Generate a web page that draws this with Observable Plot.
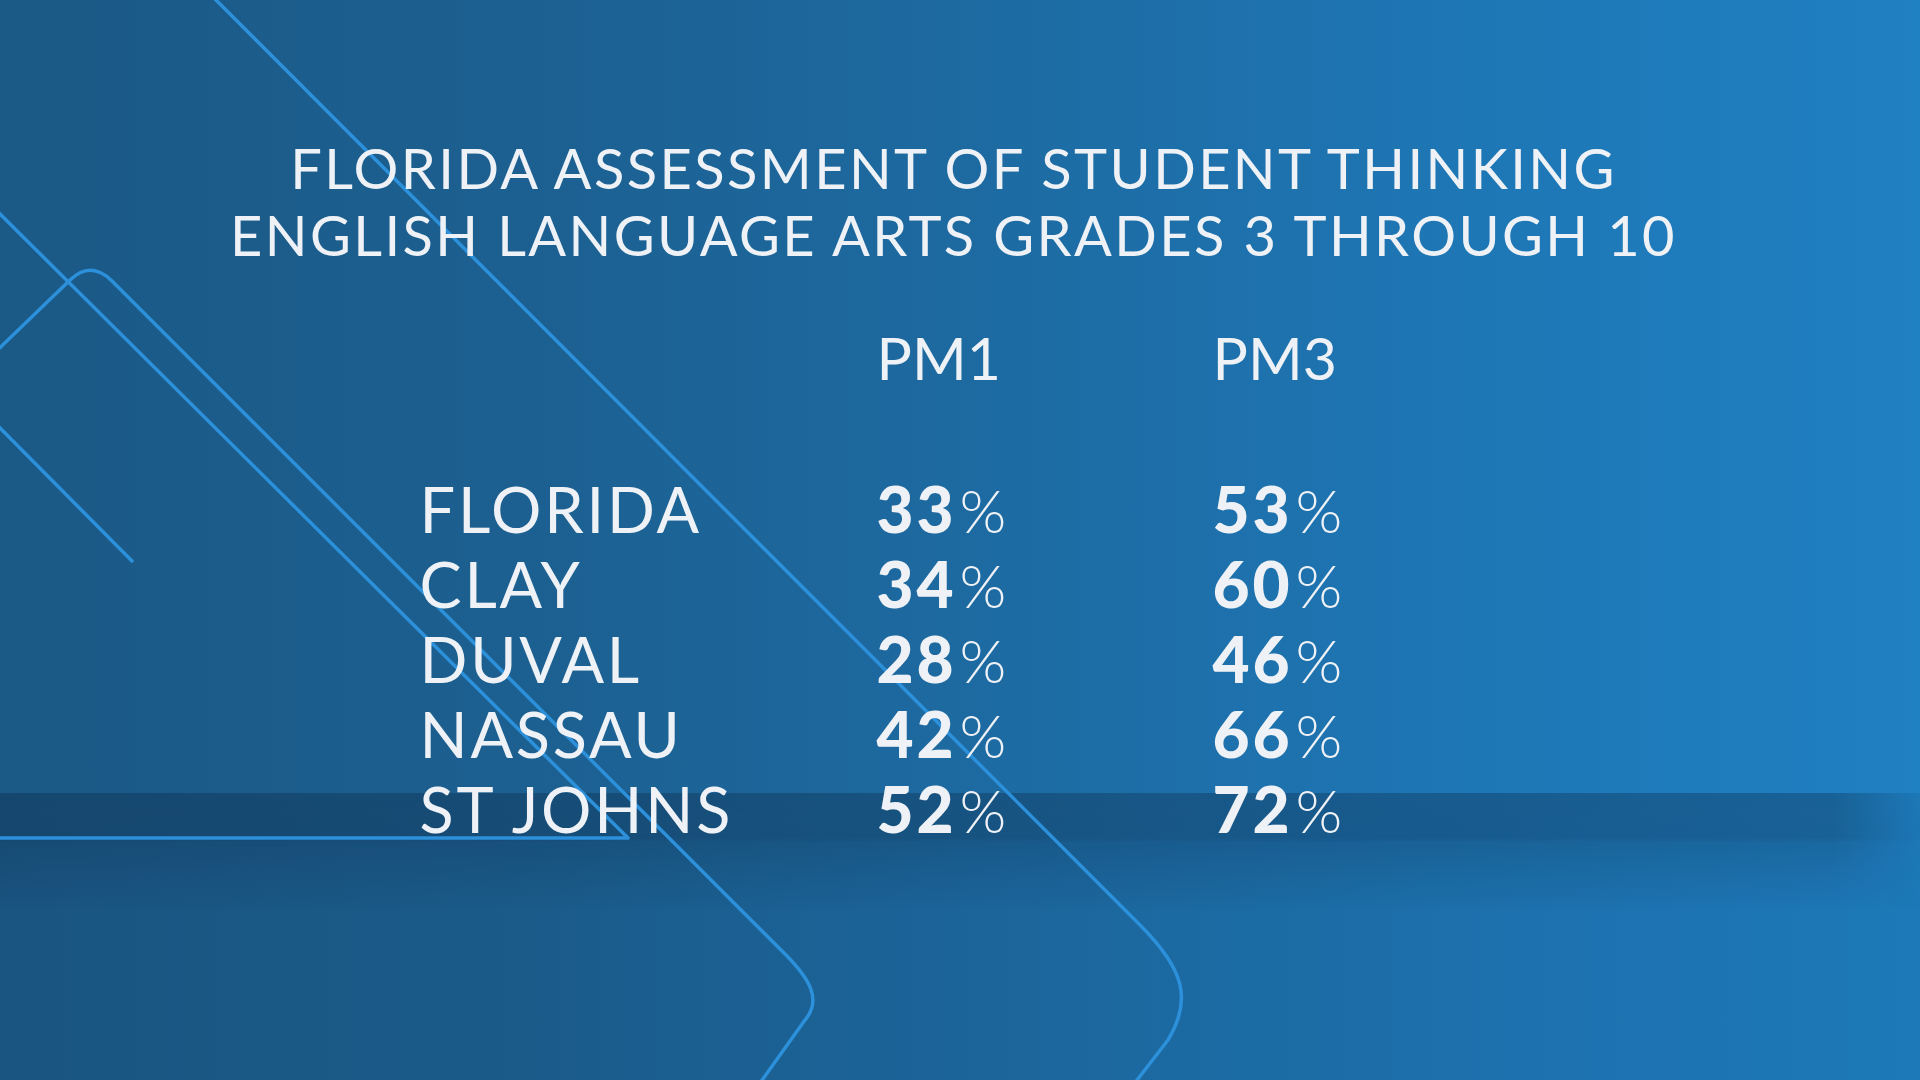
<!DOCTYPE html>
<html>
<head>
<meta charset="utf-8">
<script src="https://cdn.jsdelivr.net/npm/d3@7"></script>
<script src="https://cdn.jsdelivr.net/npm/@observablehq/plot@0.6"></script>
<style>
  html, body { margin: 0; padding: 0; background: #1b5a88; }
  #stage {
    position: relative; width: 1920px; height: 1080px; overflow: hidden;
    background:
      linear-gradient(to bottom, rgba(8,28,55,0) 0px, rgba(8,28,55,0) 790px, rgba(8,28,55,0.07) 900px, rgba(8,28,55,0.07) 1080px),
      linear-gradient(90deg, #1b5986 0%, #1c6091 28%, #1d6aa1 50%, #1e76b4 75%, #1f80c2 100%);
  }
  #deco { position: absolute; left: 0; top: 0; }
  #chart { position: absolute; left: 0; top: 0; }
  #chart g[aria-description="title"] text { letter-spacing: 2.4px; }
  #chart g[aria-description="labels"] text { letter-spacing: 2.8px; }
  #chart g[aria-description="values"] text { letter-spacing: 3px; }
</style>
</head>
<body>
<div id="stage">
  <svg id="deco" width="1920" height="1080" viewBox="0 0 1920 1080">
    <defs>
      <linearGradient id="bandV" x1="0" y1="0" x2="0" y2="1" gradientUnits="objectBoundingBox">
        <stop offset="0" stop-color="#0a1f38" stop-opacity="0.30"/>
        <stop offset="0.38" stop-color="#0a1f38" stop-opacity="0.28"/>
        <stop offset="0.42" stop-color="#0a1f38" stop-opacity="0.20"/>
        <stop offset="1" stop-color="#0a1f38" stop-opacity="0"/>
      </linearGradient>
      <linearGradient id="bandH" x1="0" y1="0" x2="1" y2="0">
        <stop offset="0" stop-color="#fff" stop-opacity="1"/>
        <stop offset="0.955" stop-color="#fff" stop-opacity="1"/>
        <stop offset="1" stop-color="#fff" stop-opacity="0.25"/>
      </linearGradient>
      <mask id="bandMask"><rect x="0" y="780" width="1920" height="150" fill="url(#bandH)"/></mask>
    </defs>
    <rect x="0" y="793" width="1920" height="118" fill="url(#bandV)" mask="url(#bandMask)"/>
    <g fill="none" stroke="#2c90da" stroke-width="3.5" stroke-linejoin="round" stroke-linecap="round">
      <path d="M214,-2 L1140,925 C1185,970 1192,1000 1168,1040 L1134,1084"/>
      <path d="M-20,367 L70,280 Q91,260 112,281 L785,954 C810,979 822,1000 805,1020 L755,1090"/>
      <path d="M-2,212 L628,838 L-2,838"/>
      <path d="M-2,426 L132,561"/>
    </g>
  </svg>
  <div id="chart"></div>
</div>
<script>
// ---- data ----
const titleLines = ["FLORIDA ASSESSMENT OF STUDENT THINKING", "ENGLISH LANGUAGE ARTS GRADES 3 THROUGH 10"];
const periods = ["PM1", "PM3"];
const regions = ["FLORIDA", "CLAY", "DUVAL", "NASSAU", "ST JOHNS"];
const pm1 = [33, 34, 28, 42, 52];
const pm3 = [53, 60, 46, 66, 72];

const table = regions.flatMap((r, i) => [
  {region: r, period: "PM1", value: pm1[i]},
  {region: r, period: "PM3", value: pm3[i]}
]);

const ink = "#eef1f5";
const font = "Lato, 'Open Sans', sans-serif";

const chart = Plot.plot({
  width: 1920,
  height: 1080,
  margin: 0,
  style: {background: "transparent", fontFamily: font, color: ink, overflow: "visible"},
  x: {type: "point", domain: periods, range: [876, 1212], padding: 0, axis: null},
  y: {type: "point", domain: regions, range: [532, 832], padding: 0, axis: null},
  marks: [
    Plot.text([titleLines[0]], {frameAnchor: "top", dy: 188, dx: -7, lineAnchor: "bottom", fontSize: 56, fontWeight: 400, fill: ink, text: d => d, ariaDescription: "title"}),
    Plot.text([titleLines[1]], {frameAnchor: "top", dy: 255, dx: -7, lineAnchor: "bottom", fontSize: 56, fontWeight: 400, fill: ink, text: d => d, ariaDescription: "title"}),
    Plot.text(periods, {x: d => d, frameAnchor: "top", dy: 379, lineAnchor: "bottom", textAnchor: "start", fontSize: 59, fontWeight: 400, fill: ink, text: d => d, ariaDescription: "headers"}),
    Plot.text(regions, {y: d => d, frameAnchor: "left", dx: 419, lineAnchor: "bottom", textAnchor: "start", fontSize: 63, fontWeight: 400, fill: ink, text: d => d, ariaDescription: "labels"}),
    Plot.text(table, {x: "period", y: "region", text: d => String(d.value), lineAnchor: "bottom", textAnchor: "start", fontSize: 64, fontWeight: 900, fill: ink, ariaDescription: "values"}),
    Plot.text(table, {x: "period", y: "region", text: () => "%", dx: 83, lineAnchor: "bottom", textAnchor: "start", fontSize: 60, fontWeight: 300, fill: ink, ariaDescription: "percent"})
  ]
});
document.getElementById("chart").appendChild(chart);
</script>
</body>
</html>
